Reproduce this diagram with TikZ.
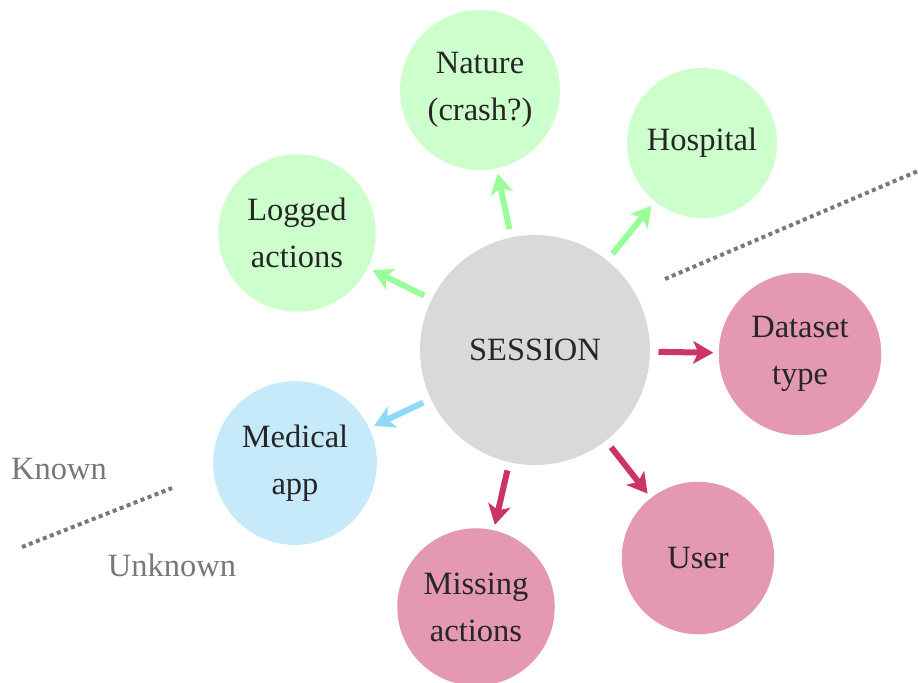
\documentclass[tikz,border=0pt]{standalone}
\usepackage{fontspec}
\setmainfont{Liberation Serif}
\usetikzlibrary{arrows.meta}

\definecolor{sessionfill}{RGB}{217,217,217}
\definecolor{knownfill}{RGB}{204,255,204}
\definecolor{knownarrow}{RGB}{153,255,153}
\definecolor{appfill}{RGB}{199,234,250}
\definecolor{apparrow}{RGB}{142,216,248}
\definecolor{unknownfill}{RGB}{228,153,176}
\definecolor{unknownarrow}{RGB}{204,51,102}
\definecolor{bordergray}{RGB}{120,120,120}

\begin{document}
\begin{tikzpicture}[x=0.4pt,y=-0.4pt,
	bubble/.style={circle,inner sep=0pt,align=center,text=black!85,font=\fontsize{13}{18.8}\selectfont},
	known/.style={bubble,fill=knownfill},
	unknown/.style={bubble,fill=unknownfill},
	link/.style={line width=2.4pt,-{Stealth[length=8pt,width=9pt,inset=2pt]},shorten <=3.2pt,shorten >=2pt},
	border/.style={bordergray,line width=1.6pt,dash pattern=on 1.6pt off 1.4pt},
	side/.style={text=bordergray,font=\fontsize{13}{15}\selectfont}]
	\useasboundingbox (0,0) rectangle (918,682);
	\node[bubble,fill=sessionfill,minimum size=92pt,font=\fontsize{13}{15}\selectfont] (session) at (535,350) {SESSION};
	\node[known,minimum size=64pt] (nature) at (480,90) {Nature\\(crash?)};
	\node[known,minimum size=60pt] (hospital) at (702,143) {Hospital};
	\node[known,minimum size=63pt] (logged) at (297,233) {Logged\\actions};
	\node[bubble,fill=appfill,minimum size=65.5pt] (medical) at (295,463) {Medical\\app};
	\node[unknown,minimum size=65pt] (dataset) at (800,354) {Dataset\\type};
	\node[unknown,minimum size=61pt] (user) at (698,558) {User};
	\node[unknown,minimum size=63pt] (missing) at (476,607) {Missing\\actions};
	\draw[link,knownarrow] (session) -- (logged);
	\draw[link,knownarrow] (session) -- (nature);
	\draw[link,knownarrow] (session) -- (hospital);
	\draw[link,apparrow] (session) -- (medical);
	\draw[link,unknownarrow] (session) -- (dataset);
	\draw[link,unknownarrow] (session) -- (user);
	\draw[link,unknownarrow] (session) -- (missing);
	\draw[border] (665,279) -- (918,171);
	\draw[border] (22,547) -- (172,488);
	\node[side] (known) at (59,469) {Known};
	\node[side] (unknown) at (172,565) {Unknown};
\end{tikzpicture}
\end{document}
